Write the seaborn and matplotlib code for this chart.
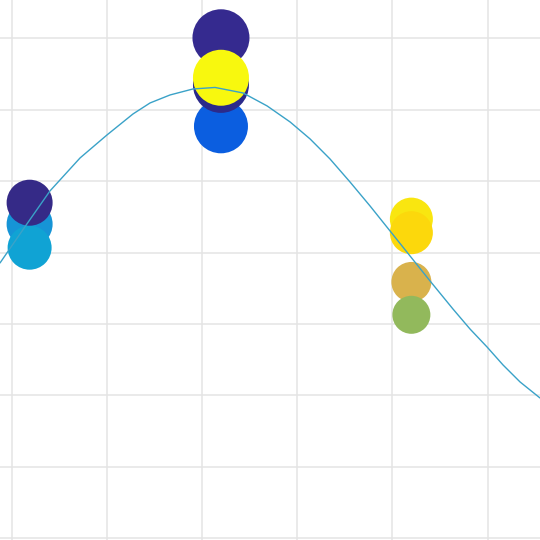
import pandas as pd
import matplotlib
matplotlib.use("Agg")
import matplotlib.pyplot as plt
import seaborn as sns

# ---------- Data ----------
curve_x = [-0.121, 0.163, 0.404, 0.720, 1.003, 1.276, 1.455, 1.665, 1.906,
           2.138, 2.432, 2.685, 2.926, 3.136, 3.345, 3.555, 3.766, 3.976,
           4.186, 4.396, 4.637, 4.816, 4.995, 5.163, 5.342, 5.551]
curve_y = [3.856, 4.405, 4.865, 5.327, 5.649, 5.943, 6.097, 6.209, 6.293,
           6.314, 6.237, 6.055, 5.831, 5.593, 5.313, 4.991, 4.654, 4.304,
           3.954, 3.604, 3.211, 2.931, 2.679, 2.427, 2.189, 1.965]

# points, listed in drawing order (later ones sit on top)
point_x = [0.19, 0.19, 0.19,
           2.20, 2.20, 2.20, 2.20,
           4.20, 4.20, 4.20, 4.20]
point_y = [4.40, 4.07, 4.70,
           5.77, 6.35, 7.01, 6.45,
           4.47, 4.28, 3.59, 3.13]
point_weight = [46, 44, 46,
                54, 56, 57, 56,
                43, 43, 40, 38]
point_color = ["#1694d6", "#10a3d4", "#352a87",
               "#0b5ee0", "#2c2a8a", "#352a8f", "#f8f80e",
               "#f9e610", "#fcd80c", "#d9b24c", "#92b95c"]

# ---------- Style ----------
sns.set_theme(style="whitegrid")
plt.rcParams["grid.color"] = "#e4e4e4"
plt.rcParams["grid.linewidth"] = 1.1

fig = plt.figure(figsize=(5.4, 5.4), dpi=100)
ax = fig.add_axes([0, 0, 1, 1])

df_pts = pd.DataFrame({
    "x": point_x,
    "y": point_y,
    "id": range(len(point_x)),
    "w": point_weight,
})
palette = {i: c for i, c in enumerate(point_color)}
# marker area in points^2 from diameter in pixels
sizes = {w: (w * 0.72) ** 2 for w in set(point_weight)}

sns.scatterplot(data=df_pts, x="x", y="y", hue="id", palette=palette,
                size="w", sizes=sizes, legend=False, linewidth=0,
                alpha=1.0, ax=ax, zorder=2)

df_curve = pd.DataFrame({"x": curve_x, "y": curve_y})
sns.lineplot(data=df_curve, x="x", y="y", color="#3aa2c8", linewidth=1.0,
             solid_joinstyle="round", ax=ax, zorder=3)

ax.set_xlim(-0.121, 5.551)
ax.set_ylim(-0.024, 7.539)
ax.set_xticks(range(0, 6))
ax.set_yticks(range(0, 8))
ax.set_xticklabels([])
ax.set_yticklabels([])
ax.set_xlabel("")
ax.set_ylabel("")
ax.tick_params(length=0)
for s in ax.spines.values():
    s.set_visible(False)

fig.savefig("out.png", dpi=100, facecolor="white")
